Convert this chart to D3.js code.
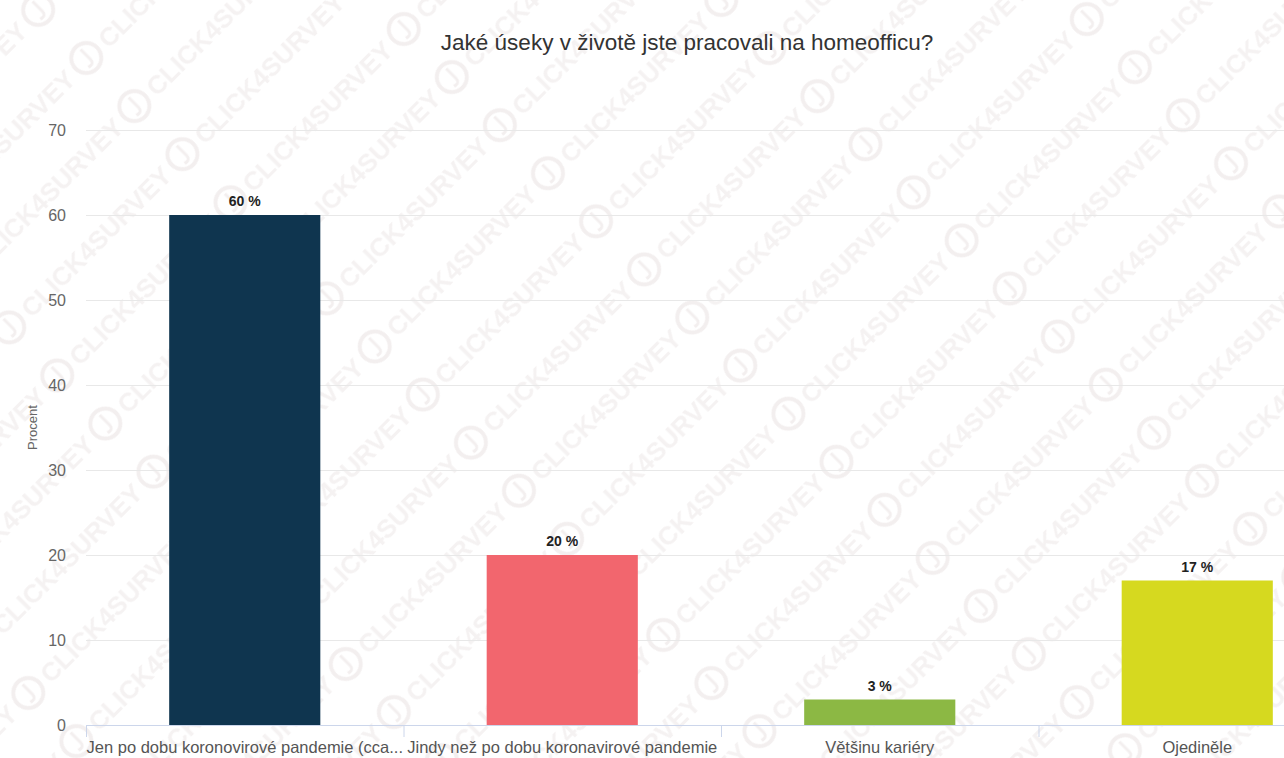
<!DOCTYPE html>
<html><head><meta charset="utf-8">
<script src="https://cdn.jsdelivr.net/npm/d3@7"></script>
<style>html,body{margin:0;padding:0;background:#fff;}svg{display:block;font-family:"Liberation Sans",Arial,sans-serif;}</style>
</head><body><svg id="c" width="1284" height="758"></svg>
<script>
const categories = ["Jen po dobu koronovirové pandemie (cca...", "Jindy než po dobu koronavirové pandemie", "Většinu kariéry", "Ojediněle"];
const values = [60, 20, 3, 17];
const valueLabels = ["60 %", "20 %", "3 %", "17 %"];
const colors = ["#0f354f", "#f2666e", "#8cb844", "#d6d91f"];
const yTicks = [0, 10, 20, 30, 40, 50, 60, 70];
const title = "Jaké úseky v životě jste pracovali na homeofficu?";
const yTitle = "Procent";

(function(){
const svg = d3.select("#c");
const W = 1284, H = 758;
const mLeft = 86, mRight = 1356, mTop = 130, mBottom = 725;

// faint watermark
const defs = svg.append("defs");
const pat = defs.append("pattern").attr("id","wm").attr("patternUnits","userSpaceOnUse")
  .attr("width", 245).attr("height", 68).attr("patternTransform","rotate(-45)");
pat.append("circle").attr("cx",20).attr("cy",34).attr("r",15).attr("fill","none")
  .attr("stroke","#f3efef").attr("stroke-width",4);
pat.append("path").attr("d","M22,24 V38 Q22,44 15,42").attr("fill","none")
  .attr("stroke","#f3efef").attr("stroke-width",3);
pat.append("text").attr("x",42).attr("y",44).attr("font-size",26).attr("font-weight","bold")
  .attr("fill","#f5f2f2").text("CLICK4SURVEY");
svg.append("rect").attr("width",W).attr("height",H).attr("fill","url(#wm)");

const x = d3.scaleBand().domain(categories).range([mLeft, mRight]).paddingInner(0.524).paddingOuter(0.262);
const y = d3.scaleLinear().domain([0, 70]).range([mBottom, mTop]);

// gridlines
svg.append("g").selectAll("line").data(yTicks.filter(d=>d>0)).join("line")
  .attr("x1", mLeft).attr("x2", W).attr("y1", d=>y(d)+0.5).attr("y2", d=>y(d)+0.5)
  .attr("stroke", "#e8e8e8").attr("stroke-width", 1);

// y axis labels
const ya = svg.append("g").attr("transform", `translate(${mLeft},0)`)
  .call(d3.axisLeft(y).tickValues(yTicks).tickSize(0).tickPadding(20));
ya.select(".domain").remove();
ya.selectAll("text").attr("font-size", 16).attr("fill", "#666").attr("font-family","Liberation Sans, Arial, sans-serif");

// bars
svg.append("g").selectAll("rect").data(values).join("rect")
  .attr("x", (d,i)=>x(categories[i])).attr("width", x.bandwidth())
  .attr("y", d=>y(d)).attr("height", d=>y(0)-y(d))
  .attr("fill", (d,i)=>colors[i]);

// value labels
svg.append("g").selectAll("text").data(values).join("text")
  .attr("x", (d,i)=>x(categories[i]) + x.bandwidth()/2).attr("y", d=>y(d)-9)
  .attr("text-anchor","middle").attr("font-size",14).attr("font-weight","bold").attr("fill","#222")
  .text((d,i)=>valueLabels[i]);

// x axis
const xa = svg.append("g").attr("transform", `translate(0,${mBottom})`)
  .call(d3.axisBottom(x).tickSize(0).tickPadding(16));
xa.select(".domain").attr("stroke","#ccd6eb").attr("d", `M${mLeft},0.5H${mRight}`);
xa.selectAll("text").attr("font-size", 16.5).attr("fill", "#555").attr("font-family","Liberation Sans, Arial, sans-serif");
// band boundary ticks
svg.append("g").selectAll("line").data(d3.range(categories.length+1)).join("line")
  .attr("x1", i=>mLeft + i*(mRight-mLeft)/categories.length + 0.5)
  .attr("x2", i=>mLeft + i*(mRight-mLeft)/categories.length + 0.5)
  .attr("y1", mBottom).attr("y2", mBottom+12).attr("stroke","#ccd6eb");

// title
svg.append("text").attr("x", 687).attr("y", 50).attr("text-anchor","middle")
  .attr("font-size", 22.5).attr("fill","#333").text(title);

// y title
svg.append("text").attr("transform", `translate(37,${(mTop+mBottom)/2}) rotate(-90)`)
  .attr("text-anchor","middle").attr("font-size",13).attr("fill","#666").text(yTitle);
})();
</script></body></html>
